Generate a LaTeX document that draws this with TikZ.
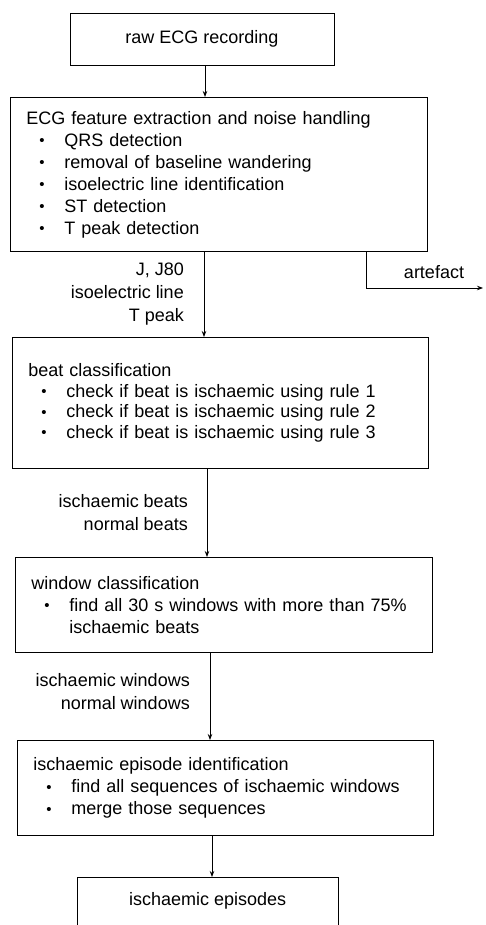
\documentclass[tikz,border=0pt]{standalone}
\usepackage{fontspec}
\setmainfont{Liberation Sans}
\usetikzlibrary{arrows.meta}
\newcommand{\bul}[1]{\\\hspace*{13pt}\makebox[25pt][l]{\raisebox{0.5pt}{\fontsize{15}{15}\selectfont\textbullet}}#1}
\begin{document}
\begin{tikzpicture}[x=1pt,y=-1pt,
  every node/.style={font=\fontsize{18}{22}\selectfont},
  box/.style={draw,line width=0.9pt,anchor=north west,inner xsep=16pt,inner ysep=0pt,align=left},
  cbox/.style={draw,line width=0.9pt,inner sep=0pt},
  arr/.style={line width=0.9pt,-{Stealth[length=6pt,width=4.5pt]}},
  lbl/.style={anchor=east,align=right,inner sep=0pt,font=\fontsize{18}{23}\selectfont}]
\useasboundingbox (0,0) rectangle (485,925);
\fill[white] (0,0) rectangle (485,925);

\node[cbox,minimum width=264pt,minimum height=52pt] (b1) at (202,39) {raw ECG recording};

\node[box,text width=385pt,minimum height=154pt] (b2) at (10,97)
 {ECG feature extraction and noise handling\bul{QRS detection}\bul{removal of baseline wandering}\bul{isoelectric line identification}\bul{ST detection}\bul{T peak detection}};

\node[box,text width=384pt,minimum height=131pt,font=\fontsize{18}{20.5}\selectfont] (b3) at (12,337)
 {beat classification\bul{check if beat is ischaemic using rule 1}\bul{check if beat is ischaemic using rule 2}\bul{check if beat is ischaemic using rule 3}};

\node[box,text width=385pt,minimum height=95pt] (b4) at (15,557)
 {window classification\bul{find all 30 s windows with more than 75\%}\\\hspace*{38pt}ischaemic beats};

\node[box,text width=384pt,minimum height=95pt] (b5) at (17,740)
 {ischaemic episode identification\bul{find all sequences of ischaemic windows}\bul{merge those sequences}};

\node[anchor=north west,inner sep=0pt,minimum width=261pt,minimum height=48pt] (b6) at (77,877) {ischaemic episodes};
\draw[line width=0.9pt] (b6.south west) -- (b6.north west) -- (b6.north east) -- (b6.south east);

\coordinate (x1) at (205,0);
\coordinate (x2) at (204,0);
\coordinate (x3) at (207,0);
\coordinate (x4) at (210,0);
\coordinate (x5) at (212,0);
\coordinate (xa) at (366,0);
\coordinate (artend) at (483,288);

\draw[arr] (b1.south -| x1) -- (b2.north -| x1);
\draw[arr] (b2.south -| x2) -- (b3.north -| x2);
\draw[arr] (b3.south -| x3) -- (b4.north -| x3);
\draw[arr] (b4.south -| x4) -- (b5.north -| x4);
\draw[arr] (b5.south -| x5) -- (b6.north -| x5);
\draw[arr] (b2.south -| xa) |- (artend);

\node (art) at (434,272) {artefact};
\node[lbl] (l1) at (184,294) {J, J80\\isoelectric line\\T peak};
\node[lbl] (l2) at (188,513) {ischaemic beats\\normal beats};
\node[lbl] (l3) at (190,692) {ischaemic windows\\normal windows};
\end{tikzpicture}
\end{document}
